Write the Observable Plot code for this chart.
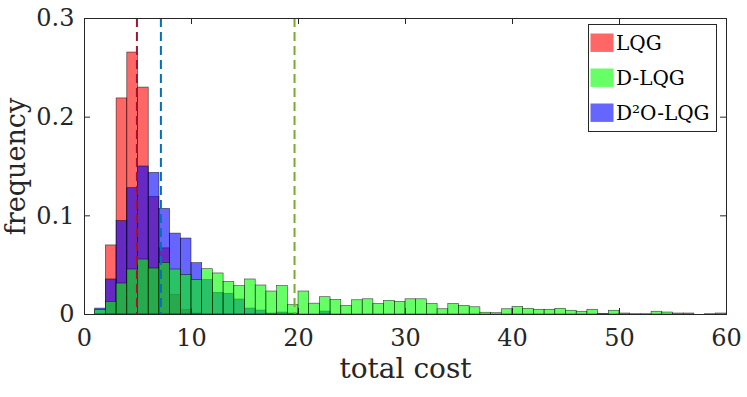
<!DOCTYPE html>
<html><head><meta charset="utf-8">
<script src="https://cdn.jsdelivr.net/npm/d3@7"></script>
<script src="https://cdn.jsdelivr.net/npm/@observablehq/plot@0.6"></script>
<style>body{margin:0;background:#fff}</style>
</head><body><div id="chart"></div>
<script>
// ---- data ----
const seriesNames = ["LQG", "D-LQG", "D²O-LQG"];
const seriesColors = ["#ff0000", "#00ff00", "#0000ff"];
const meanLineColors = ["#a2142f", "#77ac30", "#0072bd"];
const binStart = 1;
const binWidth = 1;
// frequency per unit-width bin, starting at total cost = 1
const lqg = [0, 0.070, 0.219, 0.2655, 0.230, 0.119, 0.067, 0.020, 0.0045, 0.001];
const dlqg = [0.0045, 0.0128, 0.0314, 0.0456, 0.0557, 0.0466, 0.0523, 0.0456, 0.040, 0.035,
  0.0459, 0.0416, 0.033, 0.0287, 0.0355, 0.0294, 0.0233, 0.0287, 0.0094, 0.0233,
  0.011, 0.0175, 0.0147, 0.0086, 0.0144, 0.0154, 0.0106, 0.0137, 0.0127, 0.0154,
  0.0154, 0.0106, 0.0053, 0.0106, 0.0086, 0.0073, 0.0018, 0.0013, 0.0053, 0.0076,
  0.0058, 0.0048, 0.0048, 0.0058, 0.0038, 0.0028, 0.0048, 0.0005, 0.0038, 0.001,
  0.0003, 0.0003, 0.0028, 0.002, 0.001, 0.001, 0, 0.0003, 0.001];
const d2olqg = [0.006, 0.0355, 0.0946, 0.128, 0.150, 0.1435, 0.107, 0.082, 0.077, 0.052,
  0.035, 0.022, 0.021, 0.0152, 0.006, 0.004, 0.001, 0.002, 0.001, 0, 0, 0.003];
const seriesMeans = [4.9, 19.63, 7.14];
const xTicks = [0, 10, 20, 30, 40, 50, 60];
const yTicks = [0, 0.1, 0.2, 0.3];
const xLabel = "total cost";
const yLabel = "frequency";

// ---- build tables ----
function bins(arr, name) {
  return arr.map((v, i) => ({x1: binStart + i * binWidth, x2: binStart + (i + 1) * binWidth, y: v, series: name}));
}
const seriesData = [lqg, dlqg, d2olqg];
const drawOrder = [0, 2, 1]; // red, then blue, then green on top
const means = seriesMeans.map((m, i) => ({x: m, color: meanLineColors[i]}));

const W = 747, H = 397;
const mL = 84, mR = 21, mT = 18, mB = 83;
const pw = W - mL - mR, ph = H - mT - mB;
const tick = 6;

const barMarks = drawOrder.map(i => Plot.rectY(bins(seriesData[i], seriesNames[i]), {
  x1: "x1", x2: "x2", y: "y",
  fill: seriesColors[i], fillOpacity: 0.6,
  stroke: "#000", strokeOpacity: 0.75, strokeWidth: 0.6
}));

const svg = Plot.plot({
  width: W, height: H,
  marginLeft: mL, marginRight: mR, marginTop: mT, marginBottom: mB,
  style: {fontFamily: "'DejaVu Serif', serif", fontSize: "24px", background: "white", color: "#262626"},
  x: {domain: [0, 60]},
  y: {domain: [0, 0.3]},
  marks: [
    ...barMarks,
    Plot.ruleX(means, {x: "x", stroke: "color", strokeWidth: 2, strokeDasharray: "9,5"}),
    Plot.tickX(xTicks, {x: d => d, insetTop: ph - tick, stroke: "#262626"}),
    Plot.tickX(xTicks, {x: d => d, insetBottom: ph - tick, stroke: "#262626"}),
    Plot.tickY(yTicks, {y: d => d, insetRight: pw - tick, stroke: "#262626"}),
    Plot.tickY(yTicks, {y: d => d, insetLeft: pw - tick, stroke: "#262626"}),
    Plot.frame({stroke: "#262626", strokeWidth: 1}),
    Plot.axisX(xTicks, {tickSize: 0, tickPadding: 14, label: null, fontSize: 24, fill: "#262626"}),
    Plot.axisY(yTicks, {tickSize: 0, tickPadding: 10, label: null, fontSize: 24, fill: "#262626", tickFormat: d => d === 0 ? "0" : d3.format(".1f")(d)}),
    Plot.text([xLabel], {frameAnchor: "bottom", dy: 63, lineAnchor: "bottom", textAnchor: "middle", fontSize: 28, fill: "#262626"}),
    Plot.text([yLabel], {frameAnchor: "left", dx: -60, rotate: -90, lineAnchor: "bottom", textAnchor: "middle", fontSize: 27, fill: "#262626"})
  ]
});

// ---- legend (inside the axes, top right) ----
const g = d3.select(svg).append("g").attr("class", "legend").attr("text-anchor", "start");
const lx = 588, ly = 24, lw = 128, lh = 107;
g.append("rect").attr("x", lx + 0.5).attr("y", ly + 0.5).attr("width", lw).attr("height", lh)
  .attr("fill", "white").attr("stroke", "#262626").attr("stroke-width", 1);
seriesNames.forEach((name, i) => {
  const ry = ly + 9.5 + i * 35;
  g.append("rect").attr("x", lx + 2.5).attr("y", ry).attr("width", 23).attr("height", 18.4)
    .attr("fill", seriesColors[i]).attr("fill-opacity", 0.6);
  g.append("text").attr("x", lx + 28).attr("y", ry + 16).attr("text-anchor", "start")
    .attr("font-family", "'DejaVu Serif', serif").attr("font-size", 20).attr("fill", "#000")
    .text(name);
});

document.getElementById("chart").appendChild(svg);
</script>
</body></html>
